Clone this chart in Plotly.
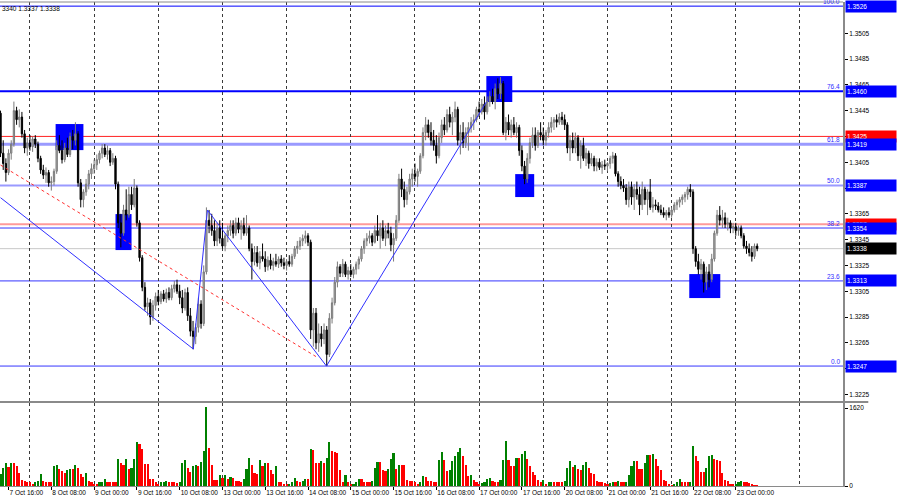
import plotly.graph_objects as go

# ---------------- DATA (H1 bars, prices in pips above 1.3200) ----------------
PRICE_BASE = 1.32

opens_pips = [
    243, 212, 204, 197, 212, 219, 245, 238, 240, 227, 216, 220, 217, 223, 219, 208, 199, 195, 197, 189,
    190, 198, 218, 214, 207, 216, 211, 225, 222, 227, 189, 176, 182, 188, 196, 200, 203, 207, 212, 216,
    211, 214, 205, 208, 188, 158, 150, 168, 164, 180, 172, 185, 158, 131, 108, 93, 96, 85, 94, 101,
    97, 103, 99, 104, 100, 107, 110, 105, 100, 92, 104, 86, 74, 70, 77, 95, 80, 120, 160, 156,
    152, 144, 154, 146, 140, 148, 152, 156, 150, 158, 153, 156, 150, 154, 138, 128, 135, 127, 132, 130,
    124, 129, 125, 128, 126, 130, 127, 125, 128, 126, 132, 138, 140, 144, 146, 148, 143, 75, 88, 65,
    72, 68, 75, 56, 84, 96, 112, 124, 119, 126, 118, 121, 118, 122, 126, 130, 138, 144, 146, 148,
    143, 152, 148, 154, 146, 152, 150, 141, 146, 160, 192, 184, 176, 182, 192, 196, 194, 198, 210, 228,
    234, 228, 222, 218, 210, 224, 234, 230, 242, 236, 240, 246, 222, 228, 220, 228, 232, 236, 238, 246,
    244, 250, 244, 252, 256, 252, 262, 258, 266, 228, 236, 230, 234, 228, 232, 214, 202, 192, 208, 220,
    226, 218, 228, 226, 222, 228, 232, 236, 238, 236, 240, 238, 234, 216, 222, 216, 224, 210, 218, 208,
    212, 204, 208, 202, 205, 201, 203, 202, 204, 208, 210, 196, 190, 187, 185, 176, 186, 178, 184, 180,
    172, 184, 176, 182, 170, 172, 171, 168, 166, 164, 166, 164, 168, 172, 174, 176, 178, 180, 184, 182,
    138, 128, 122, 126, 112, 120, 114, 130, 150, 164, 160, 162, 157, 158, 154, 155, 152, 154, 148, 140,
    138, 135, 132, 140,
]
highs_pips = [
    245, 222, 208, 215, 222, 252, 248, 246, 244, 230, 224, 226, 225, 226, 221, 210, 203, 201, 199, 194,
    200, 222, 226, 222, 220, 224, 228, 230, 236, 229, 192, 184, 192, 199, 204, 207, 211, 214, 219, 219,
    218, 216, 212, 210, 190, 165, 172, 184, 186, 186, 192, 187, 160, 133, 112, 100, 99, 98, 104, 106,
    105, 106, 107, 108, 110, 113, 114, 110, 106, 107, 108, 92, 82, 80, 100, 98, 125, 170, 168, 165,
    160, 158, 160, 158, 150, 156, 160, 160, 162, 162, 160, 162, 164, 156, 142, 140, 140, 136, 142, 136,
    132, 134, 131, 134, 132, 133, 131, 130, 133, 134, 140, 144, 147, 149, 152, 150, 145, 92, 92, 80,
    78, 80, 78, 88, 100, 116, 128, 126, 130, 128, 124, 126, 124, 128, 132, 140, 146, 150, 152, 150,
    156, 164, 158, 160, 156, 158, 155, 150, 164, 196, 200, 190, 186, 196, 200, 204, 200, 212, 232, 240,
    238, 236, 230, 226, 228, 238, 240, 246, 248, 244, 252, 248, 234, 236, 232, 236, 240, 242, 248, 252,
    254, 256, 256, 260, 262, 266, 270, 271, 268, 240, 242, 238, 240, 236, 234, 218, 206, 212, 224, 232,
    232, 230, 236, 232, 230, 236, 240, 240, 242, 243, 244, 242, 236, 226, 228, 228, 226, 222, 224, 216,
    214, 212, 210, 208, 208, 206, 207, 205, 210, 213, 212, 198, 194, 192, 188, 190, 190, 188, 190, 186,
    190, 186, 184, 192, 178, 176, 174, 172, 170, 168, 170, 170, 174, 176, 178, 180, 182, 186, 188, 184,
    140, 134, 130, 128, 124, 126, 134, 152, 168, 171, 168, 166, 162, 160, 158, 158, 156, 156, 150, 144,
    142, 140, 142, 142,
]
lows_pips = [
    209, 199, 190, 195, 207, 217, 234, 232, 224, 212, 210, 214, 213, 216, 205, 196, 192, 189, 186, 183,
    187, 196, 212, 204, 205, 209, 209, 215, 218, 186, 170, 170, 179, 184, 192, 196, 199, 204, 208, 209,
    207, 202, 203, 184, 154, 139, 148, 160, 162, 168, 170, 155, 128, 105, 90, 86, 79, 82, 90, 94,
    95, 97, 96, 98, 98, 104, 103, 95, 88, 90, 82, 70, 60, 64, 73, 76, 78, 118, 150, 148,
    140, 140, 142, 138, 136, 143, 148, 146, 148, 150, 145, 148, 148, 136, 114, 125, 124, 122, 128, 120,
    121, 122, 121, 124, 123, 124, 122, 121, 124, 124, 130, 134, 137, 140, 142, 140, 68, 62, 60, 58,
    62, 64, 47, 54, 80, 94, 108, 116, 116, 116, 114, 116, 115, 118, 122, 128, 134, 140, 142, 140,
    142, 144, 138, 144, 140, 146, 136, 128, 144, 158, 178, 170, 172, 180, 186, 190, 186, 196, 208, 222,
    224, 218, 214, 204, 208, 220, 226, 228, 232, 226, 236, 218, 211, 216, 216, 214, 228, 230, 236, 240,
    242, 238, 242, 248, 250, 246, 254, 254, 226, 222, 226, 224, 226, 224, 210, 198, 188, 189, 204, 216,
    214, 216, 222, 218, 218, 224, 228, 230, 232, 234, 234, 230, 212, 206, 212, 212, 206, 200, 206, 202,
    200, 202, 198, 198, 199, 196, 199, 198, 200, 204, 194, 186, 184, 182, 172, 170, 172, 168, 176, 164,
    168, 172, 164, 168, 166, 168, 166, 164, 162, 160, 162, 162, 166, 168, 170, 172, 174, 176, 178, 134,
    124, 118, 114, 104, 106, 108, 112, 128, 148, 156, 154, 154, 152, 150, 150, 148, 148, 146, 138, 134,
    132, 128, 130, 136,
]
closes_pips = [
    212, 204, 197, 212, 219, 245, 238, 240, 227, 216, 220, 217, 223, 219, 208, 199, 195, 197, 189, 190,
    198, 218, 214, 207, 216, 211, 225, 222, 227, 189, 176, 182, 188, 196, 200, 203, 207, 212, 216, 211,
    214, 205, 208, 188, 158, 150, 168, 164, 180, 172, 185, 158, 131, 108, 93, 96, 85, 94, 101, 97,
    103, 99, 104, 100, 107, 110, 105, 100, 92, 104, 86, 74, 70, 77, 95, 80, 120, 160, 156, 152,
    144, 154, 146, 140, 148, 152, 156, 150, 158, 153, 156, 150, 154, 138, 128, 135, 127, 132, 130, 124,
    129, 125, 128, 126, 130, 127, 125, 128, 126, 132, 138, 140, 144, 146, 148, 143, 75, 88, 65, 72,
    68, 75, 56, 84, 96, 112, 124, 119, 126, 118, 121, 118, 122, 126, 130, 138, 144, 146, 148, 143,
    152, 148, 154, 146, 152, 150, 141, 146, 160, 192, 184, 176, 182, 192, 196, 194, 198, 210, 228, 234,
    228, 222, 218, 210, 224, 234, 230, 242, 236, 240, 246, 222, 228, 220, 228, 232, 236, 238, 246, 244,
    250, 244, 252, 256, 252, 262, 258, 266, 228, 236, 230, 234, 228, 232, 214, 202, 192, 208, 220, 226,
    218, 228, 226, 222, 228, 232, 236, 238, 236, 240, 238, 234, 216, 222, 216, 224, 210, 218, 208, 212,
    204, 208, 202, 205, 201, 203, 202, 204, 208, 210, 196, 190, 187, 185, 176, 186, 178, 184, 180, 172,
    184, 176, 182, 170, 172, 171, 168, 166, 164, 166, 164, 168, 172, 174, 176, 178, 180, 184, 182, 138,
    128, 122, 126, 112, 120, 114, 130, 150, 164, 160, 162, 157, 158, 154, 155, 152, 154, 148, 140, 138,
    135, 132, 140, 138,
]
volumes = [
    259, 370, 481, 392, 481, 481, 407, 274, 126, 111, 74, 74, 37, 74, 111, 259, 111, 89, 74, 74,
    407, 444, 348, 318, 274, 333, 348, 348, 444, 370, 259, 185, 274, 111, 89, 52, 37, 74, 89, 148,
    74, 74, 74, 74, 570, 481, 444, 570, 348, 370, 570, 925, 866, 762, 466, 466, 148, 148, 89, 52,
    74, 89, 111, 74, 74, 74, 67, 74, 481, 533, 370, 296, 422, 444, 407, 496, 718, 1640, 800, 444,
    126, 126, 237, 170, 222, 148, 185, 170, 111, 111, 74, 148, 348, 592, 444, 274, 259, 533, 407, 481,
    481, 333, 259, 407, 89, 74, 52, 37, 52, 74, 170, 111, 74, 111, 148, 148, 762, 740, 481, 481,
    518, 481, 592, 910, 725, 703, 688, 333, 74, 222, 89, 37, 52, 89, 148, 148, 89, 89, 89, 96,
    370, 496, 496, 333, 318, 348, 570, 681, 348, 444, 444, 444, 126, 111, 111, 74, 52, 74, 200, 185,
    111, 96, 89, 89, 533, 703, 540, 318, 333, 518, 629, 703, 792, 614, 444, 200, 222, 126, 74, 37,
    67, 74, 148, 170, 111, 74, 74, 126, 533, 940, 533, 407, 407, 592, 592, 666, 725, 570, 407, 296,
    222, 126, 74, 126, 52, 74, 89, 74, 74, 74, 74, 111, 370, 518, 385, 444, 348, 333, 444, 496,
    370, 274, 259, 111, 89, 74, 67, 37, 67, 89, 74, 111, 74, 74, 89, 222, 422, 518, 518, 348,
    348, 481, 644, 644, 666, 555, 407, 333, 126, 111, 52, 22, 52, 74, 148, 89, 74, 74, 89, 836,
    614, 518, 296, 296, 370, 629, 644, 570, 540, 518, 274, 126, 111, 52, 37, 52, 74, 111, 74, 74,
    59, 52, 22, 15,
]

time_label_bars = [3, 19, 35, 51, 67, 83, 99, 115, 131, 147, 163, 179, 195, 211, 227, 243, 259, 275]
time_labels = ["7 Oct 16:00", "8 Oct 08:00", "9 Oct 00:00", "9 Oct 16:00", "10 Oct 08:00",
               "13 Oct 00:00", "13 Oct 16:00", "14 Oct 08:00", "15 Oct 00:00", "15 Oct 16:00",
               "16 Oct 08:00", "17 Oct 00:00", "17 Oct 16:00", "20 Oct 08:00", "21 Oct 00:00",
               "21 Oct 16:00", "22 Oct 08:00", "23 Oct 00:00"]

price_ticks = [1.3225, 1.3245, 1.3265, 1.3285, 1.3305, 1.3325, 1.3345, 1.3365, 1.3385,
               1.3405, 1.3425, 1.3445, 1.3465, 1.3485, 1.3505]

fib_prices = [1.3526, 1.3460, 1.3419, 1.3387, 1.3354, 1.3313, 1.3247]
fib_names = ["100.0", "76.4", "61.8", "50.0", "38.2", "23.6", "0.0"]
red_level_prices = [1.3425, 1.3357]
current_price = 1.3338
header_text = "3340 1.3337 1.3338"

# zones (bar from, bar to, price low, price high)
zone_bar_from = [20.6, 43.0, 181.7, 192.5, 257.6]
zone_bar_to = [31.0, 49.0, 191.4, 199.6, 269.2]
zone_low = [1.34144, 1.33369, 1.34517, 1.33780, 1.32997]
zone_high = [1.34346, 1.33648, 1.34718, 1.33958, 1.33183]

zigzag_bars = [0, 72.1, 77.4, 121.9, 181.7]
zigzag_prices = [1.33775, 1.32602, 1.33679, 1.32470, 1.34517]
dashed_bars = [0, 118.9]
dashed_prices = [1.34028, 1.32532]

# ---------------- BUILD ----------------
bars = list(range(len(closes_pips)))
to_price = lambda v: round(PRICE_BASE + v / 10000.0, 4)
opens = [to_price(v) for v in opens_pips]
highs = [to_price(v) for v in highs_pips]
lows = [to_price(v) for v in lows_pips]
closes = [to_price(v) for v in closes_pips]
vol_colors = ["#008000" if (i == 0 or volumes[i] > volumes[i - 1]) else "#ff0000" for i in bars]

FONT = "Liberation Sans"
GRID = dict(tick0=11, dtick=24, showgrid=True, griddash="3px,3px", gridcolor="#3a3a3a",
            gridwidth=1, ticks="")
X_RANGE = [-0.2, 315.1]

fig = go.Figure()

fig.add_trace(go.Scatter(x=dashed_bars, y=dashed_prices, mode="lines",
                         line=dict(color="#ff3030", width=1, dash="3px,3px"),
                         xaxis="x", yaxis="y", hoverinfo="skip", showlegend=False))
fig.add_trace(go.Scatter(x=zigzag_bars, y=zigzag_prices, mode="lines",
                         line=dict(color="#3030ff", width=1),
                         xaxis="x", yaxis="y", hoverinfo="skip", showlegend=False))

fig.add_trace(go.Candlestick(
    x=bars, open=opens, high=highs, low=lows, close=closes,
    increasing=dict(line=dict(color="#7a7a7a", width=1), fillcolor="#b0b0b0"),
    decreasing=dict(line=dict(color="#000000", width=1), fillcolor="#000000"),
    whiskerwidth=0, xaxis="x", yaxis="y", showlegend=False))

fig.add_trace(go.Bar(x=bars, y=volumes, marker=dict(color=vol_colors, line=dict(width=0)),
                     width=0.8, xaxis="x2", yaxis="y2", showlegend=False))

shapes = []
for x0, x1, y0, y1 in zip(zone_bar_from, zone_bar_to, zone_low, zone_high):
    shapes.append(dict(type="rect", xref="x", yref="y", x0=x0, x1=x1, y0=y0, y1=y1,
                       fillcolor="#0000ff", line=dict(width=0), layer="below"))

fib_styles = [("#0000ff", 1), ("#0000ff", 2), ("#9a9aff", 3), ("#9a9aff", 2),
              ("#3535ff", 1), ("#3535ff", 1), ("#3535ff", 1)]
red_styles = [("#ff2020", 1), ("#ff9a9a", 2)]
for p, (col, w) in zip(red_level_prices, red_styles):
    shapes.append(dict(type="line", xref="paper", yref="y", x0=0, x1=1, y0=p, y1=p,
                       line=dict(color=col, width=w), layer="below"))
for p, (col, w) in zip(fib_prices, fib_styles):
    shapes.append(dict(type="line", xref="paper", yref="y", x0=0, x1=1, y0=p, y1=p,
                       line=dict(color=col, width=w), layer="below"))
shapes.append(dict(type="line", xref="paper", yref="y", x0=0, x1=1, y0=current_price,
                   y1=current_price, line=dict(color="#c8c8c8", width=1), layer="below"))
shapes.append(dict(type="line", xref="paper", yref="paper", x0=0, x1=1.03, y0=0.1736, y1=0.1736,
                   line=dict(color="#8a8a8a", width=2)))
shapes.append(dict(type="line", xref="paper", yref="paper", x0=0, x1=1, y0=1, y1=1,
                   line=dict(color="#8a8a8a", width=1)))

annotations = []
for p, name, (col, w) in zip(fib_prices, fib_names, fib_styles):
    annotations.append(dict(xref="paper", yref="y", x=1, y=p, text=name, showarrow=False,
                            xanchor="right", yanchor="bottom", xshift=-1, yshift=-1,
                            font=dict(family=FONT, size=6.5, color="#3030ff")))

box_prices = [1.3526, 1.3460, 1.3425, 1.3419, 1.3387, 1.3357, 1.3354, 1.3338, 1.3313, 1.3247]
box_colors = ["#0000ff", "#0000ff", "#ff0000", "#0000ff", "#0000ff", "#ff0000",
              "#0000ff", "#000000", "#0000ff", "#0000ff"]
for p, col in zip(box_prices, box_colors):
    annotations.append(dict(xref="paper", yref="y", x=1, y=p, text=f"{p:.4f}", showarrow=False,
                            xanchor="left", yanchor="middle", xshift=2, width=48, height=9,
                            align="left", bgcolor=col, borderpad=1,
                            font=dict(family=FONT, size=6.5, color="#ffffff")))

annotations.append(dict(xref="paper", yref="paper", x=0, y=1, text=header_text, showarrow=False,
                        xanchor="left", yanchor="top", yshift=-1,
                        font=dict(family=FONT, size=6.5, color="#000000")))

fig.update_layout(
    width=900, height=500,
    margin=dict(l=0, r=57, t=2, b=14, autoexpand=False),
    paper_bgcolor="#ffffff", plot_bgcolor="#ffffff",
    showlegend=False, bargap=0,
    font=dict(family=FONT, size=6.5, color="#000000"),
    shapes=shapes, annotations=annotations,
    xaxis=dict(domain=[0, 1], anchor="y", range=X_RANGE, showticklabels=False,
               showgrid=False, zeroline=False, showline=False, ticks="",
               rangeslider=dict(visible=False), minor=GRID),
    xaxis2=dict(domain=[0, 1], anchor="y2", matches="x", range=X_RANGE,
                tickmode="array", tickvals=time_label_bars, ticktext=time_labels,
                ticklabelposition="outside right", tickangle=0, ticks="outside", ticklen=3,
                tickcolor="#000000", tickfont=dict(family=FONT, size=6.5),
                showgrid=False, zeroline=False, showline=True, linecolor="#8a8a8a",
                linewidth=1, minor=GRID),
    yaxis=dict(domain=[0.1756, 1], anchor="x", side="right", range=[1.32199, 1.35292],
               tickmode="array", tickvals=price_ticks,
               ticktext=[f"{t:.4f}" for t in price_ticks],
               ticks="outside", ticklen=3, tickcolor="#000000",
               tickfont=dict(family=FONT, size=6.5),
               showgrid=False, zeroline=False, showline=True, linecolor="#8a8a8a",
               linewidth=2),
    yaxis2=dict(domain=[0, 0.1715], anchor="x2", side="right", range=[0, 1725],
                tickmode="array", tickvals=[0, 1620], ticktext=["0", "1620"],
                ticks="outside", ticklen=3, tickcolor="#000000",
                tickfont=dict(family=FONT, size=6.5),
                showgrid=False, zeroline=False, showline=True, linecolor="#8a8a8a",
                linewidth=2),
)

fig.write_html("out.html", config={"displayModeBar": False},
               post_script="document.body.style.margin='0';document.body.style.padding='0';")
